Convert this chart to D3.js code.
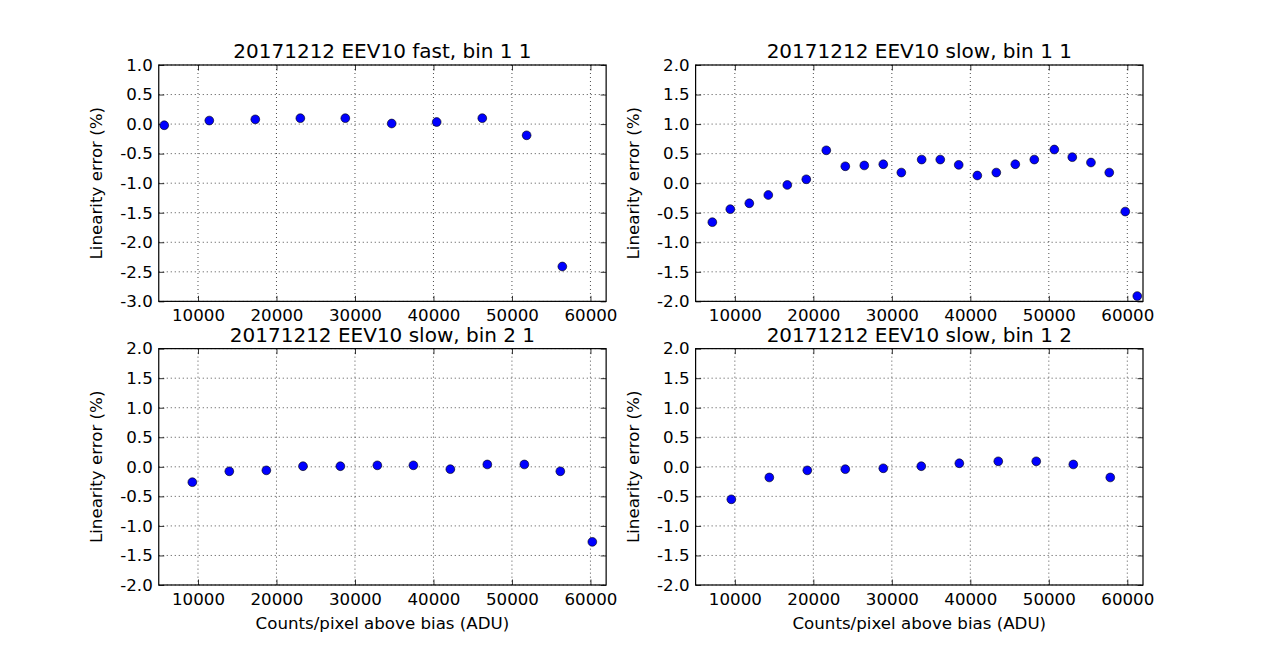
<!DOCTYPE html>
<html><head><meta charset="utf-8">
<script src="https://cdn.jsdelivr.net/npm/d3@7"></script>
<style>body{margin:0;background:#fff} text{font-family:"DejaVu Sans";fill:#000}</style>
</head><body><svg id="c" width="1270" height="650"></svg>
<script>
// ---- data ----
const titles = ["20171212 EEV10 fast, bin 1 1", "20171212 EEV10 slow, bin 1 1",
                "20171212 EEV10 slow, bin 2 1", "20171212 EEV10 slow, bin 1 2"];
const xLabel = "Counts/pixel above bias (ADU)";
const yLabel = "Linearity error (%)";
const xTicks = [10000, 20000, 30000, 40000, 50000, 60000];
const xDomain = [5000, 62000];

const fastX = [5700, 11440, 17300, 23040, 28770, 34680, 40410, 46220, 51870, 56420];
const fastY = [-0.02, 0.06, 0.08, 0.10, 0.10, 0.01, 0.035, 0.10, -0.19, -2.41];

const slow11X = [7130, 9420, 11840, 14260, 16680, 19100, 21650, 24070, 26490, 28910, 31210,
                 33800, 36170, 38520, 40890, 43310, 45730, 48150, 50700, 52990, 55370, 57700, 59740, 61270];
const slow11Y = [-0.66, -0.44, -0.34, -0.20, -0.03, 0.066, 0.556, 0.286, 0.30, 0.32, 0.18,
                 0.40, 0.40, 0.31, 0.13, 0.18, 0.32, 0.40, 0.57, 0.44, 0.35, 0.18, -0.48, -1.91];

const slow21X = [9280, 13990, 18710, 23380, 28140, 32850, 37440, 42150, 46860, 51580, 56160, 60240];
const slow21Y = [-0.26, -0.076, -0.06, 0.01, 0.01, 0.025, 0.025, -0.04, 0.04, 0.04, -0.076, -1.27];

const slow12X = [9550, 14390, 19230, 24070, 28910, 33750, 38600, 43560, 48400, 53120, 57830];
const slow12Y = [-0.55, -0.18, -0.06, -0.04, -0.025, 0.01, 0.06, 0.093, 0.093, 0.04, -0.18];

const yDomains = [[-3, 1], [-2, 2], [-2, 2], [-2, 2]];
const seriesX = [fastX, slow11X, slow21X, slow12X];
const seriesY = [fastY, slow11Y, slow21Y, slow12Y];

// ---- layout (matplotlib 2x2 subplot fractions) ----
const figW = 1270, figH = 650;
const mLeft = 0.125 * figW, mRight = 0.9 * figW, mTop = 0.1 * figH, mBottom = 0.9 * figH;
const aw = (mRight - mLeft) / 2.2, ah = (mBottom - mTop) / 2.2;
const svg = d3.select("#c");
const fmtY = v => d3.format(".1f")(v).replace("\u2212", "-");

titles.forEach((t, i) => {
  const col = i % 2, row = Math.floor(i / 2);
  const x0 = mLeft + col * aw * 1.2, y0 = mTop + row * ah * 1.2;
  const g = svg.append("g").attr("transform", `translate(${x0},${y0})`);
  const x = d3.scaleLinear().domain(xDomain).range([0, aw]);
  const y = d3.scaleLinear().domain(yDomains[i]).range([ah, 0]);
  const yTicks = d3.range(yDomains[i][0], yDomains[i][1] + 0.001, 0.5);

  // grid
  g.append("g").selectAll("line").data(xTicks).join("line")
    .attr("x1", d => x(d)).attr("x2", d => x(d)).attr("y1", 0).attr("y2", ah)
    .attr("stroke", "#000").attr("stroke-width", 0.7).attr("stroke-dasharray", "1,3");
  g.append("g").selectAll("line").data(yTicks).join("line")
    .attr("y1", d => y(d)).attr("y2", d => y(d)).attr("x1", 0).attr("x2", aw)
    .attr("stroke", "#000").attr("stroke-width", 0.7).attr("stroke-dasharray", "1,3");

  // axes with inward ticks on all sides
  const tl = 5.5;
  const axB = d3.axisBottom(x).tickValues(xTicks).tickSizeInner(-tl).tickSizeOuter(0).tickPadding(8).tickFormat(d3.format("d"));
  const axT = d3.axisTop(x).tickValues(xTicks).tickSizeInner(-tl).tickSizeOuter(0).tickFormat("");
  const axL = d3.axisLeft(y).tickValues(yTicks).tickSizeInner(-tl).tickSizeOuter(0).tickPadding(6).tickFormat(fmtY);
  const axR = d3.axisRight(y).tickValues(yTicks).tickSizeInner(-tl).tickSizeOuter(0).tickFormat("");
  [[axB, `translate(0,${ah})`], [axT, "translate(0,0)"], [axL, "translate(0,0)"], [axR, `translate(${aw},0)`]].forEach(([ax, tr]) => {
    const a = g.append("g").attr("transform", tr).call(ax);
    a.select(".domain").remove();
    a.selectAll(".tick line").attr("stroke", "#000").attr("stroke-width", 0.8);
    a.selectAll(".tick text").attr("font-family", "DejaVu Sans").attr("font-size", "16.67px").attr("fill", "#000");
  });

  // spines
  g.append("rect").attr("x", 0).attr("y", 0).attr("width", aw).attr("height", ah)
    .attr("fill", "none").attr("stroke", "#000").attr("stroke-width", 1.2);

  // points
  const pts = seriesX[i].map((v, k) => [v, seriesY[i][k]]);
  g.append("g").selectAll("circle").data(pts).join("circle")
    .attr("cx", d => x(d[0])).attr("cy", d => y(d[1])).attr("r", 4.4)
    .attr("fill", "#0000ff").attr("stroke", "#000").attr("stroke-width", 0.6);

  // title
  g.append("text").attr("x", aw / 2).attr("y", -7).attr("text-anchor", "middle")
    .attr("font-size", "20px").text(t);
  // y label
  g.append("text").attr("transform", `translate(-57,${ah / 2}) rotate(-90)`).attr("text-anchor", "middle")
    .attr("font-size", "16.67px").text(yLabel);
  if (row === 1) {
    g.append("text").attr("x", aw / 2).attr("y", ah + 44).attr("text-anchor", "middle")
      .attr("font-size", "16.67px").text(xLabel);
  }
});
</script></body></html>
